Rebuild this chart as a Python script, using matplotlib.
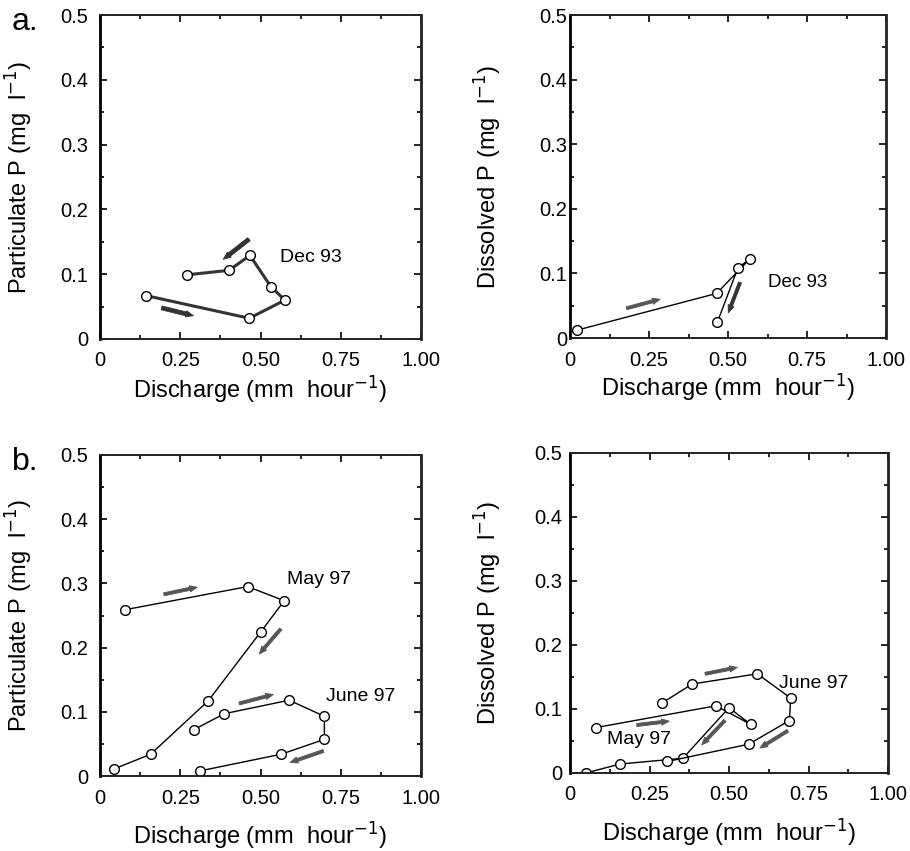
import matplotlib
matplotlib.use("Agg")
import matplotlib.pyplot as plt
from matplotlib.ticker import FixedLocator, MultipleLocator

plt.rcParams['font.family'] = ['Liberation Sans', 'DejaVu Sans']
plt.rcParams['mathtext.fontset'] = 'custom'
plt.rcParams['mathtext.rm'] = 'Liberation Sans'
plt.rcParams['mathtext.it'] = 'Liberation Sans'
plt.rcParams['mathtext.bf'] = 'Liberation Sans'

# ---------------- data ----------------
# Panel a, particulate P, Dec 93
a_part_dec93_q = [0.143, 0.465, 0.576, 0.532, 0.467, 0.402, 0.271]
a_part_dec93_p = [0.067, 0.032, 0.060, 0.081, 0.129, 0.106, 0.099]
# Panel a, dissolved P, Dec 93
a_diss_dec93_q = [0.021, 0.464, 0.570, 0.531, 0.466]
a_diss_dec93_p = [0.012, 0.069, 0.123, 0.108, 0.024]
# Panel b, particulate P
b_part_may97_q = [0.078, 0.460, 0.574, 0.500, 0.337, 0.158, 0.044]
b_part_may97_p = [0.259, 0.295, 0.273, 0.224, 0.117, 0.034, 0.011]
b_part_jun97_q = [0.292, 0.387, 0.589, 0.699, 0.699, 0.565, 0.312]
b_part_jun97_p = [0.072, 0.097, 0.118, 0.093, 0.057, 0.034, 0.008]
# Panel b, dissolved P
b_diss_may97_q = [0.082, 0.459, 0.568, 0.500, 0.355, 0.157, 0.050]
b_diss_may97_p = [0.071, 0.105, 0.076, 0.102, 0.023, 0.014, 0.000]
b_diss_jun97_q = [0.288, 0.384, 0.589, 0.694, 0.690, 0.562, 0.306]
b_diss_jun97_p = [0.109, 0.139, 0.155, 0.117, 0.082, 0.045, 0.018]

xticks = [0, 0.25, 0.50, 0.75, 1.00]
xticklabels = ['0', '0.25', '0.50', '0.75', '1.00']
yticks = [0, 0.1, 0.2, 0.3, 0.4, 0.5]
yticklabels = ['0', '0.1', '0.2', '0.3', '0.4', '0.5']

xlabel = 'Discharge (mm  hour$^{\\mathsf{-1}}$)'
ylab_part = 'Particulate P (mg  l$^{\\mathsf{-1}}$)'
ylab_diss = 'Dissolved P (mg  l$^{\\mathsf{-1}}$)'

# ---------------- figure ----------------
fig = plt.figure(figsize=(9.10, 8.51), dpi=100)

def px_axes(x0, y0, x1, y1):
    W, H = 910.0, 851.0
    return fig.add_axes([x0 / W, 1 - y1 / H, (x1 - x0) / W, (y1 - y0) / H])

ax_al = px_axes(100, 15, 421, 339)
ax_ar = px_axes(570, 15, 886, 338)
ax_bl = px_axes(100, 455, 421, 776)
ax_br = px_axes(570, 453, 888, 773)

def style(ax, ylab, ypad, ylab_x, xlab_y):
    ax.set_xlim(0, 1.0)
    ax.set_ylim(0, 0.5)
    ax.xaxis.set_major_locator(FixedLocator(xticks))
    ax.set_xticklabels(xticklabels)
    ax.yaxis.set_major_locator(FixedLocator(yticks))
    ax.set_yticklabels(yticklabels)
    ax.xaxis.set_minor_locator(MultipleLocator(0.125))
    ax.yaxis.set_minor_locator(MultipleLocator(0.05))
    ax.tick_params(which='both', direction='in', top=True, right=True, width=1.2)
    ax.tick_params(which='major', length=5)
    ax.tick_params(which='minor', length=3)
    ax.tick_params(axis='x', which='major', pad=9, labelsize=14.5)
    ax.tick_params(axis='y', which='major', pad=ypad, labelsize=14.5)
    for s in ax.spines.values():
        s.set_linewidth(1.4)
        s.set_color('#222222')
    ax.spines['left'].set_linewidth(2.0)
    ax.spines['right'].set_linewidth(2.0)
    ax.spines['left'].set_color('black')
    ax.set_xlabel(xlabel, fontsize=17)
    ax.set_ylabel(ylab, fontsize=17)
    ax.xaxis.set_label_coords(0.5, xlab_y)
    ax.yaxis.set_label_coords(ylab_x, 0.5)

style(ax_al, ylab_part, 8.6, -0.205, -0.105)
style(ax_ar, ylab_diss, 2.2, -0.212, -0.105)
style(ax_bl, ylab_part, 8.6, -0.205, -0.135)
style(ax_br, ylab_diss, 5.8, -0.212, -0.135)

mk = dict(marker='o', markersize=7, markerfacecolor='white',
          markeredgecolor='black', markeredgewidth=1.0)

ax_al.plot(a_part_dec93_q, a_part_dec93_p, color='#333333', lw=2.2, **mk)
ax_ar.plot(a_diss_dec93_q, a_diss_dec93_p, color='black', lw=1.0, **mk)
ax_bl.plot(b_part_may97_q, b_part_may97_p, color='black', lw=1.0, **mk)
ax_bl.plot(b_part_jun97_q, b_part_jun97_p, color='black', lw=1.0, **mk)
ax_br.plot(b_diss_may97_q, b_diss_may97_p, color='black', lw=1.0, **mk)
ax_br.plot(b_diss_jun97_q, b_diss_jun97_p, color='black', lw=1.0, **mk)

def arrow(ax, start, end, color='#555555', tw=0.22):
    ax.annotate('', xy=end, xytext=start,
                arrowprops=dict(arrowstyle='simple,head_length=0.55,head_width=0.45,tail_width=%g' % tw,
                                color=color, lw=0.6, shrinkA=0, shrinkB=0))

arrow(ax_al, (0.192, 0.048), (0.291, 0.036), color='#333333', tw=0.28)
arrow(ax_al, (0.464, 0.154), (0.384, 0.123), color='#333333', tw=0.28)
arrow(ax_ar, (0.179, 0.046), (0.285, 0.060))
arrow(ax_ar, (0.538, 0.086), (0.501, 0.039), color='#333333')
arrow(ax_bl, (0.199, 0.283), (0.303, 0.294))
arrow(ax_bl, (0.563, 0.229), (0.496, 0.190))
arrow(ax_bl, (0.434, 0.113), (0.540, 0.127))
arrow(ax_bl, (0.696, 0.039), (0.592, 0.021))
arrow(ax_br, (0.425, 0.155), (0.526, 0.165))
arrow(ax_br, (0.210, 0.075), (0.312, 0.081))
arrow(ax_br, (0.487, 0.082), (0.414, 0.044))
arrow(ax_br, (0.685, 0.066), (0.597, 0.039))

ax_al.text(0.56, 0.126, 'Dec 93', fontsize=14, va='center', ha='left')
ax_ar.text(0.627, 0.086, 'Dec 93', fontsize=13.5, va='center', ha='left')
ax_bl.text(0.584, 0.306, 'May 97', fontsize=14, va='center', ha='left')
ax_bl.text(0.703, 0.124, 'June 97', fontsize=14, va='center', ha='left')
ax_br.text(0.658, 0.140, 'June 97', fontsize=14, va='center', ha='left')
ax_br.text(0.115, 0.053, 'May 97', fontsize=14, va='center', ha='left')

fig.text(12 / 910, 1 - 22 / 851, 'a.', fontsize=23, va='center', ha='left')
fig.text(12 / 910, 1 - 462 / 851, 'b.', fontsize=23, va='center', ha='left')

fig.savefig('out.png', dpi=100)
